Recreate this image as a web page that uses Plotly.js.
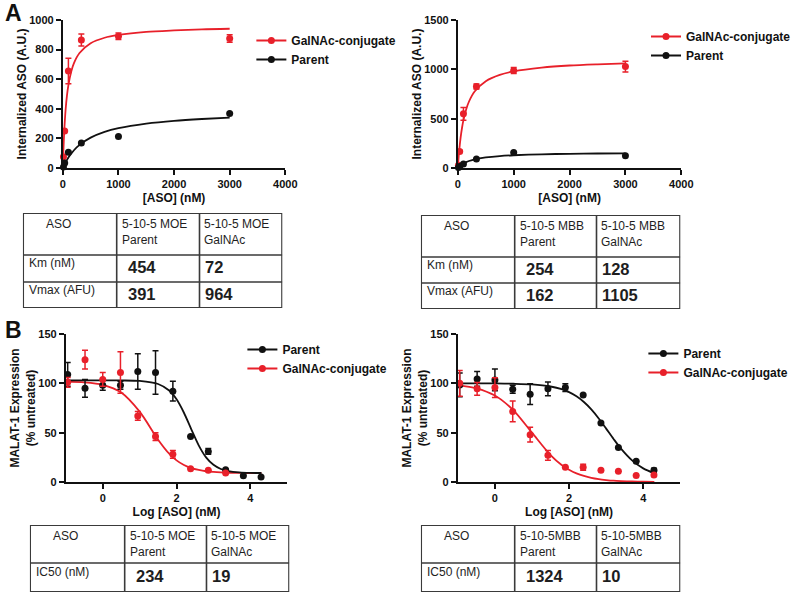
<!DOCTYPE html>
<html><head><meta charset="utf-8">
<script src="https://cdn.plot.ly/plotly-3.0.1.min.js"></script>
<style>html,body{margin:0;padding:0;background:#fff;}#chart{width:796px;height:593px;}</style>
</head><body><div id="chart"></div>
<script>
// ---------------- Panel A: uptake vs [ASO] (nM) ----------------
const concA = [11, 33, 100, 333, 1000, 3000];
const moeGalnacUptake = [76, 250, 655, 865, 890, 875];
const moeGalnacUptakeErr = [0, 0, 86, 40, 22, 25];
const moeParentUptake = [7, 34, 106, 169, 213, 368];
const mbbGalnacUptake = [27, 168, 549, 826, 988, 1028];
const mbbGalnacUptakeErr = [0, 12, 64, 25, 30, 55];
const mbbParentUptake = [4, 14, 40, 91, 158, 125];

// fitted curves
const fitConcA = [0, 10, 25, 50, 75, 100, 150, 200, 300, 500, 750, 1000, 1500, 2000, 2500, 3000];
const moeGalnacFit = [0, 118, 248, 395, 492, 560, 651, 709, 777, 843, 880, 899, 920, 930, 937, 941];
const moeParentFit = [0, 8, 20, 39, 55, 71, 97, 120, 156, 205, 244, 269, 300, 319, 331, 340];
const mbbGalnacFit = [0, 80, 181, 310, 408, 485, 596, 674, 775, 880, 944, 980, 1018, 1039, 1051, 1060];
const mbbParentFit = [0, 6, 15, 27, 37, 46, 60, 71, 88, 107, 121, 129, 139, 144, 147, 149];

// ---------------- Panel B: MALAT-1 vs log [ASO] ----------------
const logConcB = [-0.95, -0.48, 0, 0.48, 0.95, 1.43, 1.9, 2.38, 2.86, 3.33, 3.81, 4.29];
const moeParentExpr = [109, 95, 98, 98, 112, 111, 92, 46, 31, 12.5, 6.4, 5];
const moeParentExprErr = [12, 9, 5, 4, 18, 22, 10, 0, 3, 0, 0, 0];
const moeGalnacExpr = [101, 124, 104, 111, 67, 46, 28, 13.5, 12, 9];
const moeGalnacExprErr = [5, 9.5, 7, 21, 4.5, 4, 4, 0, 0, 0];
const mbbParentExpr = [98.4, 104.5, 103.5, 94, 89, 94.4, 95.7, 88.3, 59.7, 35, 21, 12];
const mbbParentExprErr = [12, 7.5, 11, 4, 10.5, 7, 4, 0, 0, 0, 0, 2];
const mbbGalnacExpr = [100, 94.4, 95.7, 71.5, 48, 27, 15, 15, 12, 11, 6.7, 7];
const mbbGalnacExprErr = [13, 6.5, 10, 10.5, 7.5, 5, 0, 3, 0, 0, 0, 0];

const fitLogB = [-1, -0.5, 0, 0.5, 1, 1.5, 1.8, 2, 2.2, 2.4, 2.6, 2.8, 3, 3.2, 3.4, 3.7, 4, 4.3];
const moeParentExprFit = [103, 103, 103, 102.9, 102.4, 99.3, 92.7, 83.8, 70.2, 53.4, 37.2, 25.0, 17.4, 13.2, 11.1, 9.7, 9.2, 9.1];
const moeGalnacExprFit = [101.7, 101.0, 98.5, 90.7, 71.3, 42.9, 28.7, 21.9, 17.2, 14.1, 12.2, 10.9, 10.2, 9.7, 9.4, 9.2, 9.1, 9.05];
const mbbParentExprFit = [100, 100, 99.9, 99.6, 98.9, 96.8, 94.1, 91.1, 86.9, 81.1, 73.6, 64.4, 54.1, 43.6, 33.8, 21.9, 13.8, 8.9];
const mbbGalnacExprFit = [98.0, 95.0, 87.6, 72.7, 50, 27.3, 17.3, 12.4, 8.7, 6.1, 4.2, 2.9, 2.0, 1.3, 0.9, 0.5, 0.28, 0.16];

// ---------------- Tables ----------------
const moeUptakeHeads = ['ASO', '5-10-5 MOE<br>Parent', '5-10-5 MOE<br>GalNAc'];
const mbbUptakeHeads = ['ASO', '5-10-5 MBB<br>Parent', '5-10-5 MBB<br>GalNAc'];
const uptakeRowLabels = ['Km (nM)', 'Vmax (AFU)'];
const moeKm = [454, 72];
const moeVmax = [391, 964];
const mbbKm = [254, 128];
const mbbVmax = [162, 1105];
const moeKdHeads = ['ASO', '5-10-5 MOE<br>Parent', '5-10-5 MOE<br>GalNAc'];
const mbbKdHeads = ['ASO', '5-10-5MBB<br>Parent', '5-10-5MBB<br>GalNAc'];
const kdRowLabels = ['IC50 (nM)'];
const moeIC50 = [234, 19];
const mbbIC50 = [1324, 10];

// ---------------- styling / layout ----------------
const W = 796, H = 593;
const RED = '#e8202a', BLACK = '#111111', GRID = '#3a3a3a';
const FONT = 'Liberation Sans, Arial, sans-serif';
const px = v => v / W, py = v => 1 - v / H;

function gap(a) { const o = []; a.forEach((v, i) => { if (i) o.push(null); o.push(v); }); return o; }

function pointTrace(name, x, y, err, color, xa, ya, legend) {
  const xs = x.slice(0, y.length);
  const t = { type: 'scatter', mode: 'lines+markers', name, x: gap(xs), y: gap(y), connectgaps: false,
    xaxis: xa, yaxis: ya, legend, cliponaxis: false, hoverinfo: 'skip',
    marker: { color, size: 7 }, line: { color, width: 2 } };
  if (err) t.error_y = { type: 'data', array: gap(err), visible: true, color, thickness: 1.5, width: 3 };
  return t;
}
function fitTrace(x, y, color, xa, ya) {
  return { type: 'scatter', mode: 'lines', x, y, xaxis: xa, yaxis: ya, showlegend: false, cliponaxis: false,
    hoverinfo: 'skip', line: { color, width: 1.8, shape: 'spline', smoothing: 0.8 } };
}

const traces = [
  fitTrace(fitConcA, moeParentFit, BLACK, 'x', 'y'),
  fitTrace(fitConcA, moeGalnacFit, RED, 'x', 'y'),
  pointTrace('GalNAc-conjugate', concA, moeGalnacUptake, moeGalnacUptakeErr, RED, 'x', 'y', 'legend'),
  pointTrace('Parent', concA, moeParentUptake, null, BLACK, 'x', 'y', 'legend'),

  fitTrace(fitConcA, mbbParentFit, BLACK, 'x2', 'y2'),
  fitTrace(fitConcA, mbbGalnacFit, RED, 'x2', 'y2'),
  pointTrace('GalNAc-conjugate', concA, mbbGalnacUptake, mbbGalnacUptakeErr, RED, 'x2', 'y2', 'legend2'),
  pointTrace('Parent', concA, mbbParentUptake, null, BLACK, 'x2', 'y2', 'legend2'),

  fitTrace(fitLogB, moeGalnacExprFit, RED, 'x3', 'y3'),
  fitTrace(fitLogB, moeParentExprFit, BLACK, 'x3', 'y3'),
  pointTrace('Parent', logConcB, moeParentExpr, moeParentExprErr, BLACK, 'x3', 'y3', 'legend3'),
  pointTrace('GalNAc-conjugate', logConcB, moeGalnacExpr, moeGalnacExprErr, RED, 'x3', 'y3', 'legend3'),

  fitTrace(fitLogB, mbbGalnacExprFit, RED, 'x4', 'y4'),
  fitTrace(fitLogB, mbbParentExprFit, BLACK, 'x4', 'y4'),
  pointTrace('Parent', logConcB, mbbParentExpr, mbbParentExprErr, BLACK, 'x4', 'y4', 'legend4'),
  pointTrace('GalNAc-conjugate', logConcB, mbbGalnacExpr, mbbGalnacExprErr, RED, 'x4', 'y4', 'legend4'),
];

function ax(extra) {
  return Object.assign({ showline: true, linecolor: BLACK, linewidth: 2, ticks: 'outside', ticklen: 5, tickwidth: 2,
    tickcolor: BLACK, showgrid: false, zeroline: false, fixedrange: true,
    tickfont: { family: FONT, size: 11, color: BLACK, weight: 'bold' } }, extra);
}
function ttl(text, standoff) { return { text, standoff, font: { family: FONT, size: 12, color: BLACK, weight: 'bold' } }; }
function leg(xpx, ypx) {
  return { x: px(xpx), y: py(ypx), xanchor: 'left', yanchor: 'top', bgcolor: 'rgba(0,0,0,0)', tracegroupgap: 0,
    itemwidth: 30, font: { family: FONT, size: 12, color: BLACK, weight: 'bold' } };
}

const layout = {
  width: W, height: H, margin: { l: 0, r: 0, t: 0, b: 0 }, paper_bgcolor: '#fff', plot_bgcolor: 'rgba(0,0,0,0)',
  showlegend: true,
  xaxis: ax({ domain: [px(63), px(286)], anchor: 'y', range: [0, 4000], dtick: 1000, title: ttl('[ASO] (nM)', 4) }),
  yaxis: ax({ domain: [py(168), py(20)], anchor: 'x', range: [0, 1000], dtick: 200, title: ttl('Internalized ASO (A.U.)', 0) }),
  xaxis2: ax({ domain: [px(459), px(683)], anchor: 'y2', range: [0, 4000], dtick: 1000, title: ttl('[ASO] (nM)', 4) }),
  yaxis2: ax({ domain: [py(168), py(20)], anchor: 'x2', range: [0, 1500], dtick: 500, title: ttl('Internalized ASO (A.U.)', 0) }),
  xaxis3: ax({ domain: [px(66), px(288)], anchor: 'y3', range: [-1, 5], tick0: 0, dtick: 2, title: ttl('Log [ASO] (nM)', 4) }),
  yaxis3: ax({ domain: [py(482), py(334)], anchor: 'x3', range: [0, 150], dtick: 50, title: ttl('MALAT-1 Expression<br>(% untreated)', 0) }),
  xaxis4: ax({ domain: [px(459), px(682)], anchor: 'y4', range: [-1, 5], tick0: 0, dtick: 2, title: ttl('Log [ASO] (nM)', 4) }),
  yaxis4: ax({ domain: [py(482), py(334)], anchor: 'x4', range: [0, 150], dtick: 50, title: ttl('MALAT-1 Expression<br>(% untreated)', 0) }),
  legend: leg(252, 26),
  legend2: leg(648, 22),
  legend3: leg(243, 335),
  legend4: leg(645, 339),
  shapes: [],
  annotations: [
    { xref: 'paper', yref: 'paper', x: px(14), y: py(13), text: '<b>A</b>', showarrow: false, xanchor: 'center', yanchor: 'middle', font: { family: FONT, size: 23, color: BLACK } },
    { xref: 'paper', yref: 'paper', x: px(14), y: py(330), text: '<b>B</b>', showarrow: false, xanchor: 'center', yanchor: 'middle', font: { family: FONT, size: 23, color: BLACK } },
  ],
};

// table built on its own hidden axes (units = pixels of the table box)
function addTable(n, left, top, colW, rowH, heads, labels, values) {
  const totW = colW.reduce((a, b) => a + b, 0), totH = rowH.reduce((a, b) => a + b, 0);
  const xa = 'x' + n, ya = 'y' + n;
  layout['xaxis' + n] = { domain: [px(left), px(left + totW)], range: [0, totW], visible: false, fixedrange: true, anchor: ya };
  layout['yaxis' + n] = { domain: [py(top + totH), py(top)], range: [totH, 0], visible: false, fixedrange: true, anchor: xa };
  const colE = [0], rowE = [0];
  colW.forEach(w => colE.push(colE[colE.length - 1] + w));
  rowH.forEach(h => rowE.push(rowE[rowE.length - 1] + h));
  const line = w => ({ color: GRID, width: w });
  layout.shapes.push({ type: 'rect', xref: xa, yref: ya, x0: 0, x1: totW, y0: 0, y1: totH, line: line(2.2) });
  colE.slice(1, -1).forEach(c => layout.shapes.push({ type: 'line', xref: xa, yref: ya, x0: c, x1: c, y0: 0, y1: totH, line: line(1.6) }));
  rowE.slice(1, -1).forEach(r => layout.shapes.push({ type: 'line', xref: xa, yref: ya, x0: 0, x1: totW, y0: r, y1: r, line: line(1.6) }));
  const txt = (x, y, text, size, bold, yanchor) => layout.annotations.push({ xref: xa, yref: ya, x, y, text, showarrow: false,
    xanchor: 'left', yanchor, align: 'left', font: { family: FONT, size, color: '#1e1e1e', weight: bold ? 'bold' : 'normal' } });
  heads.forEach((h, j) => txt(colE[j] + (j === 0 ? 21 : 3), rowE[0] + 2, h, 12, false, 'top'));
  labels.forEach((lab, i) => {
    const r0 = rowE[i + 1], rh = rowH[i + 1];
    txt(colE[0] + 4, r0 + rh * 0.3, lab, 12, false, 'middle');
    values[i].forEach((v, j) => txt(colE[j + 1] + (j === 0 ? 9 : 4), r0 + rh * 0.46, String(v), 16.5, true, 'middle'));
  });
}
addTable(5, 23, 213, [94, 83, 83], [42, 27, 26], moeUptakeHeads, uptakeRowLabels, [moeKm, moeVmax]);
addTable(6, 422, 215, [94, 82, 84], [42, 26, 26], mbbUptakeHeads, uptakeRowLabels, [mbbKm, mbbVmax]);
addTable(7, 30, 525, [95, 82, 83], [38, 29], moeKdHeads, kdRowLabels, [moeIC50]);
addTable(8, 422, 525, [94, 82, 84], [38, 29], mbbKdHeads, kdRowLabels, [mbbIC50]);

Plotly.newPlot('chart', traces, layout, { staticPlot: true, displayModeBar: false });
</script></body></html>
